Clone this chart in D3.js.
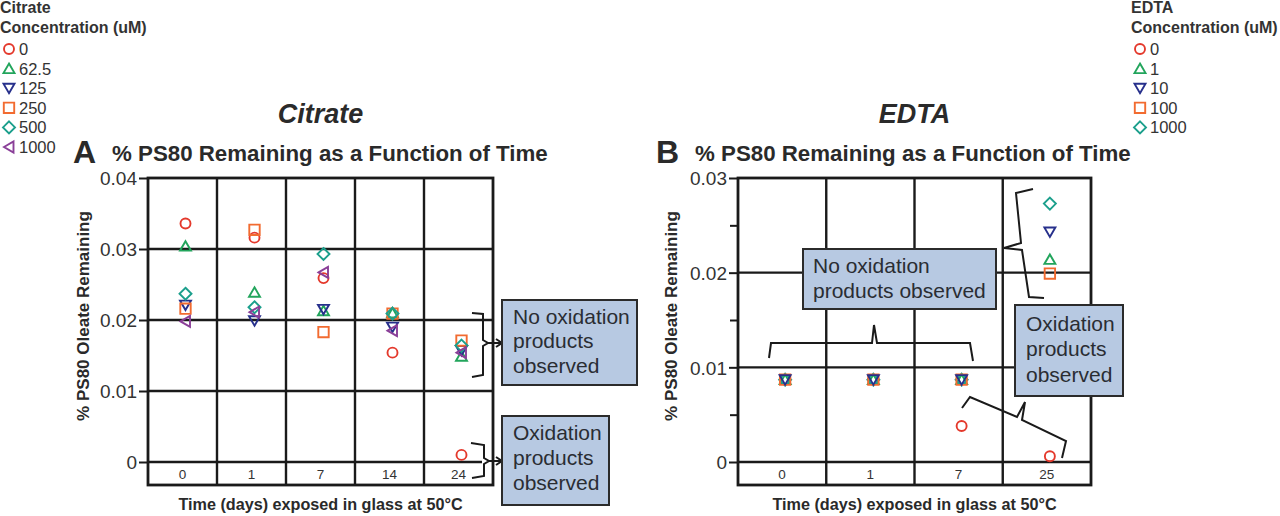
<!DOCTYPE html>
<html><head><meta charset="utf-8">
<script src="https://cdn.jsdelivr.net/npm/d3@7"></script>
<style>
html,body{margin:0;padding:0;background:#fff;}
svg{display:block;font-family:"Liberation Sans",Arial,Helvetica,sans-serif;}
</style></head>
<body>
<svg id="chart" width="1280" height="516"></svg>
<script>
// ---------- DATA ----------
const citrateDays = ["0", "1", "7", "14", "24"];
const citrateConc = ["0", "62.5", "125", "250", "500", "1000"];
const citrate0    = [0.0336, 0.0316, 0.0259, 0.0154, 0.0010];
const citrate62_5 = [0.0304, 0.0239, 0.0213, 0.0210, 0.0149];
const citrate125  = [0.0221, 0.0199, 0.0215, 0.0190, 0.0157];
const citrate250  = [0.0216, 0.0327, 0.0183, 0.0209, 0.0171];
const citrate500  = [0.0237, 0.0218, 0.0293, 0.0209, 0.0164];
const citrate1000 = [0.0198, 0.0211, 0.0267, 0.0185, 0.0154];

const edtaDays = ["0", "1", "7", "25"];
const edtaConc = ["0", "1", "10", "100", "1000"];
const edta0    = [0.0087, 0.0087, 0.0038, 0.0006];
const edta1    = [0.0087, 0.0087, 0.0087, 0.0214];
const edta10   = [0.0087, 0.0087, 0.0087, 0.0243];
const edta100  = [0.0087, 0.0087, 0.0087, 0.0199];
const edta1000 = [0.0087, 0.0087, 0.0087, 0.0273];

const citrateTicks = [0, 0.01, 0.02, 0.03, 0.04];
const edtaTicks = [0, 0.01, 0.02, 0.03];
const edtaMinorTicks = [0.005, 0.015, 0.025];

// ---------- STYLE ----------
const COL = {red:"#e4392c", green:"#22a55c", navy:"#27308c", orange:"#f26b30", teal:"#1b9f8c", purple:"#8a3f98"};
const INK = "#1a1a1a";
const TXT = "#333";
const BOXFILL = "#b7c9e2";

function shapePath(kind){
  switch(kind){
    case "circle": return "M5,0A5,5 0 1,1 -5,0A5,5 0 1,1 5,0Z";
    case "up": return "M0,-5L5.5,4.5L-5.5,4.5Z";
    case "down": return "M0,5L5.5,-4.5L-5.5,-4.5Z";
    case "square": return "M-5.2,-5.2h10.4v10.4h-10.4Z";
    case "diamond": return "M0,-6L6,0L0,6L-6,0Z";
    case "left": return "M-5,0L4.5,-5.5L4.5,5.5Z";
  }
}

const citrateSeries = [
  {name:citrateConc[0], vals:citrate0, shape:"circle", color:COL.red},
  {name:citrateConc[1], vals:citrate62_5, shape:"up", color:COL.green},
  {name:citrateConc[2], vals:citrate125, shape:"down", color:COL.navy},
  {name:citrateConc[3], vals:citrate250, shape:"square", color:COL.orange},
  {name:citrateConc[4], vals:citrate500, shape:"diamond", color:COL.teal},
  {name:citrateConc[5], vals:citrate1000, shape:"left", color:COL.purple}
];
const edtaSeries = [
  {name:edtaConc[0], vals:edta0, shape:"circle", color:COL.red},
  {name:edtaConc[1], vals:edta1, shape:"up", color:COL.green},
  {name:edtaConc[2], vals:edta10, shape:"down", color:COL.navy},
  {name:edtaConc[3], vals:edta100, shape:"square", color:COL.orange},
  {name:edtaConc[4], vals:edta1000, shape:"diamond", color:COL.teal}
];
const edtaDrawOrder = [0, 1, 4, 3, 2];

const svg = d3.select("#chart");

// ---------- LEGENDS ----------
function legend(x, title, series){
  const g = svg.append("g");
  g.append("text").attr("x", x).attr("y", 13).attr("font-size", 16).attr("font-weight", "bold").attr("fill", TXT).text(title);
  g.append("text").attr("x", x).attr("y", 33).attr("font-size", 16).attr("font-weight", "bold").attr("fill", TXT).text("Concentration (uM)");
  series.forEach((s, i) => {
    const y = 49 + i * 19.6;
    g.append("path").attr("d", shapePath(s.shape)).attr("transform", `translate(${x+9},${y})`)
      .attr("fill", "none").attr("stroke", s.color).attr("stroke-width", 1.9);
    g.append("text").attr("x", x + 19).attr("y", y + 6).attr("font-size", 16.5).attr("fill", TXT).text(s.name);
  });
}
legend(0, "Citrate", citrateSeries);
legend(1131, "EDTA", edtaSeries);

// ---------- PANEL ----------
function panel(cfg){
  const g = svg.append("g");
  const x = d3.scaleBand().domain(cfg.days).range([cfg.left, cfg.right]).padding(0);
  const y = d3.scaleLinear().domain([0, cfg.max]).range([462, 178]);
  const bottom = 485;
  const cx = (cfg.left + cfg.right) / 2;

  // titles
  g.append("text").attr("x", cx).attr("y", 123).attr("text-anchor", "middle")
    .attr("font-size", 27).attr("font-weight", "bold").attr("font-style", "italic").attr("fill", "#2a2a2a").text(cfg.title);
  g.append("text").attr("x", cfg.letterX).attr("y", 163).attr("font-size", 32).attr("font-weight", "bold").attr("fill", "#2a2a2a").text(cfg.letter);
  g.append("text").attr("x", cfg.letterX + 39).attr("y", 161).attr("font-size", 22.3).attr("font-weight", "bold").attr("fill", "#2a2a2a")
    .text("% PS80 Remaining as a Function of Time");

  // y axis
  const yAxis = d3.axisLeft(y).tickValues(cfg.ticks).tickSize(9).tickPadding(2)
    .tickFormat(d => d === 0 ? "0" : d3.format(".2f")(d));
  const ya = g.append("g").attr("transform", `translate(${cfg.left},0)`).call(yAxis);
  ya.select(".domain").remove();
  ya.selectAll(".tick line").attr("stroke", INK).attr("stroke-width", 2);
  ya.selectAll(".tick text").attr("font-size", 19).attr("fill", TXT).attr("font-family", "inherit").attr("dy", "0.36em");
  if (cfg.minor){
    const ym = d3.axisLeft(y).tickValues(cfg.minor).tickSize(8).tickFormat("");
    const ymg = g.append("g").attr("transform", `translate(${cfg.left},0)`).call(ym);
    ymg.select(".domain").remove();
    ymg.selectAll(".tick line").attr("stroke", INK).attr("stroke-width", 2);
  }

  // horizontal gridlines
  g.selectAll(".hg").data(cfg.ticks.filter(t => t > 0 && t < cfg.max)).join("line")
    .attr("x1", cfg.left).attr("x2", cfg.right).attr("y1", d => y(d)).attr("y2", d => y(d))
    .attr("stroke", INK).attr("stroke-width", 2.4);
  g.append("line").attr("x1", cfg.left).attr("x2", cfg.zeroEnd).attr("y1", y(0)).attr("y2", y(0))
    .attr("stroke", INK).attr("stroke-width", 2.4);
  // vertical dividers
  g.selectAll(".vg").data(cfg.days.slice(1)).join("line")
    .attr("x1", d => x(d)).attr("x2", d => x(d)).attr("y1", y(cfg.max)).attr("y2", bottom)
    .attr("stroke", INK).attr("stroke-width", 2.4);
  // frame
  g.append("rect").attr("x", cfg.left).attr("y", y(cfg.max)).attr("width", cfg.right - cfg.left).attr("height", bottom - y(cfg.max))
    .attr("fill", "none").attr("stroke", INK).attr("stroke-width", 2.8);

  // x labels inside bottom row
  g.selectAll(".xl").data(cfg.days).join("text")
    .attr("x", d => x(d) + x.bandwidth() / 2).attr("y", 479).attr("text-anchor", "middle")
    .attr("font-size", 13.5).attr("fill", TXT).text(d => d);

  // axis titles
  g.append("text").attr("x", cx).attr("y", 510).attr("text-anchor", "middle")
    .attr("font-size", 16.2).attr("font-weight", "bold").attr("fill", "#2a2a2a").text("Time (days) exposed in glass at 50°C");
  g.append("text").attr("transform", `translate(${cfg.yTitleX},316) rotate(-90)`).attr("text-anchor", "middle")
    .attr("font-size", 17).attr("font-weight", "bold").attr("fill", "#2a2a2a").text("% PS80 Oleate Remaining");

  // points
  cfg.order.forEach(si => {
    const s = cfg.series[si];
    g.selectAll(null).data(s.vals).join("path")
      .attr("d", shapePath(s.shape))
      .attr("transform", (v, i) => `translate(${x(cfg.days[i]) + x.bandwidth() / 2 + 3},${y(v)})`)
      .attr("fill", "none").attr("stroke", s.color).attr("stroke-width", 1.9);
  });
  return {g, x, y};
}

const A = panel({title:"Citrate", letter:"A", letterX:73, left:148, right:493, max:0.04, days:citrateDays,
  ticks:citrateTicks, series:citrateSeries, order:[0,1,2,3,4,5], yTitleX:89, zeroEnd:482});
const B = panel({title:"EDTA", letter:"B", letterX:656, left:738, right:1091, max:0.03, days:edtaDays,
  ticks:edtaTicks, minor:edtaMinorTicks, series:edtaSeries, order:edtaDrawOrder, yTitleX:677, zeroEnd:1091});

// ---------- ANNOTATIONS ----------
function noteBox(x0, y0, w, h, lines, tx, baselines){
  const g = svg.append("g");
  g.append("rect").attr("x", x0).attr("y", y0).attr("width", w).attr("height", h)
    .attr("fill", BOXFILL).attr("stroke", "#2b2b2b").attr("stroke-width", 2);
  lines.forEach((t, i) => g.append("text").attr("x", tx).attr("y", baselines[i]).attr("font-size", 21)
    .attr("fill", "#2a2d33").text(t));
}
function bracket(d){
  svg.append("path").attr("d", d).attr("fill", "none").attr("stroke", INK).attr("stroke-width", 2).attr("stroke-linejoin", "miter");
}

// Panel A braces + boxes
bracket("M472,313L483,314L483,340L488,343L483,346L483,375L472,377");
bracket("M488,343L502,343M496,339L502,343L496,347");
bracket("M471,443L484,445L484,458L489,461L484,464L484,476L472,478");
bracket("M489,461L502,461M496,457L502,461L496,465");
noteBox(502, 300, 135, 85, ["No oxidation", "products", "observed"], 513, [324, 348, 373]);
noteBox(502, 416, 107, 89, ["Oxidation", "products", "observed"], 513, [440, 465, 490]);

// Panel B braces + boxes
bracket("M769,358L771,343L872,343L874,325L877,343L970,343L973,361");
noteBox(803, 249, 193, 60, ["No oxidation", "products observed"], 813, [273, 298]);
bracket("M1033,189L1016,193L1021,243L1004,248L1022,250L1029,297L1044,298");
bracket("M962,408L970,397L1017,417L1025,402L1022,420L1066,441L1062,458");
noteBox(1015, 305, 108, 91, ["Oxidation", "products", "observed"], 1026, [331, 356, 382]);
</script>
</body></html>
